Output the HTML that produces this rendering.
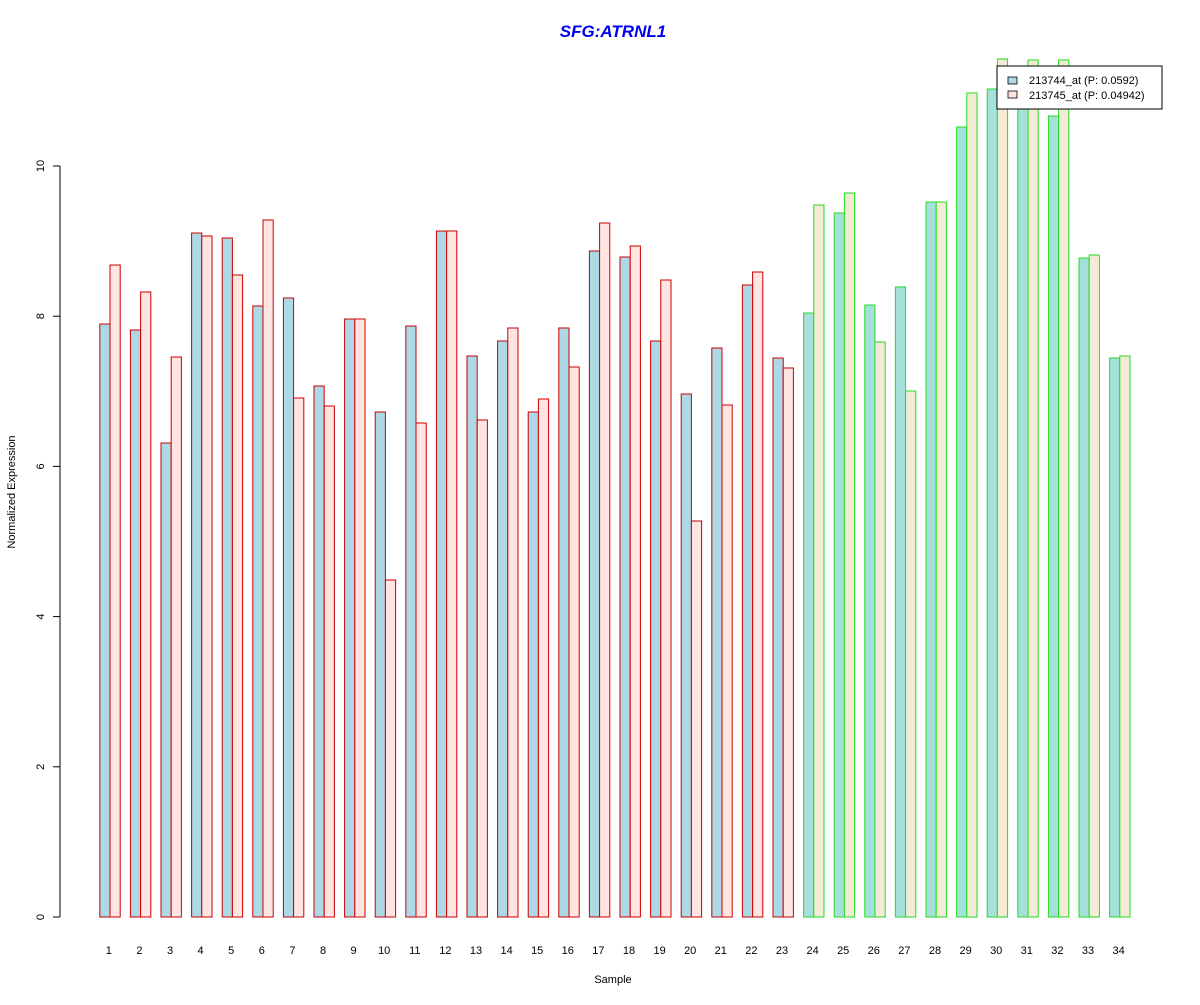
<!DOCTYPE html>
<html><head><style>body{margin:0;background:#fff}</style></head><body>
<svg id="s" width="1200" height="1000" xmlns="http://www.w3.org/2000/svg" font-family="Liberation Sans, sans-serif">
<rect width="1200" height="1000" fill="#fff"/>
<text x="613" y="37" text-anchor="middle" font-size="17" font-weight="bold" font-style="italic" fill="#0000EE">SFG:ATRNL1</text>
<g id="bars"></g>
<line x1="60" y1="166" x2="60" y2="917" stroke="#000"/>
<g id="ticks" font-size="11"></g>
<text transform="translate(15,492) rotate(-90)" text-anchor="middle" font-size="11">Normalized Expression</text>
<text x="613" y="983" text-anchor="middle" font-size="11">Sample</text>
<rect x="997" y="66" width="165" height="43" fill="#fff" stroke="#000"/>
<rect x="1008" y="77" width="9" height="7" fill="#ADD8E6" stroke="#000" stroke-width="0.8"/>
<rect x="1008" y="91" width="9" height="7" fill="#FFE4E1" stroke="#000" stroke-width="0.8"/>
<text x="1029" y="84" font-size="11">213744_at (P: 0.0592)</text>
<text x="1029" y="99" font-size="11">213745_at (P: 0.04942)</text>
</svg>
<script>
var t=[[324,265],[330,292],[443,357],[233,236],[238,275],[306,220],[298,398],[386,406],[319,319],[412,580],[326,423],[231,231],[356,420],[341,328],[412,399],[328,367],[251,223],[257,246],[341,280],[394,521],[348,405],[285,272],[358,368],[313,205],[213,193],[305,342],[287,391],[202,202],[127,93],[89,59],[95,60],[116,60],[258,255],[358,356]];
var g=document.getElementById('bars'),s='';
for(var i=0;i<34;i++){var x=99.8+30.6*i,gr=i>=23,st=gr?'#22DD22':'#CC0000';
s+='<rect x="'+x+'" y="'+t[i][0]+'" width="10.2" height="'+(917-t[i][0])+'" fill="'+(gr?'#A6E0DA':'#ADD8E6')+'" stroke="'+st+'"/>';
s+='<rect x="'+(x+10.2)+'" y="'+t[i][1]+'" width="10.2" height="'+(917-t[i][1])+'" fill="'+(gr?'#F3EBD6':'#FFE4E1')+'" stroke="'+st+'"/>';
s+='<text x="'+(x+9)+'" y="954" text-anchor="middle" font-size="11">'+(i+1)+'</text>';}
g.innerHTML=s;s='';
for(var k=0;k<=5;k++){var y=917-k*2*75.1;s+='<line x1="53" x2="60" y1="'+y+'" y2="'+y+'" stroke="#000"/><text transform="translate(44,'+y+') rotate(-90)" text-anchor="middle">'+(k*2)+'</text>';}
document.getElementById('ticks').innerHTML=s;
</script>
</body></html>
